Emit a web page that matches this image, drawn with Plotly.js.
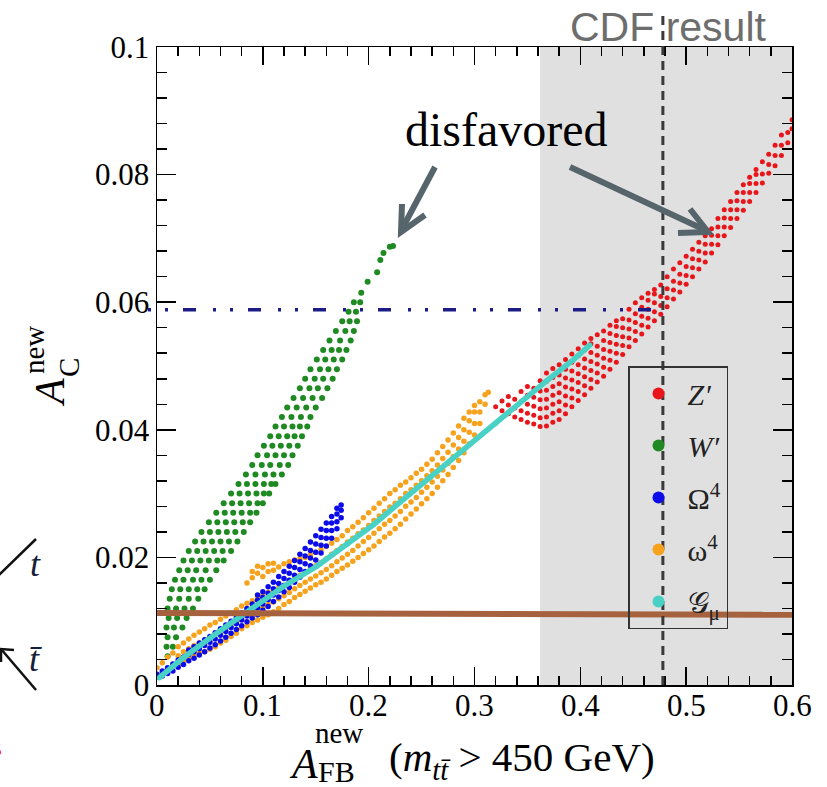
<!DOCTYPE html>
<html>
<head>
<meta charset="utf-8">
<script src="https://cdn.plot.ly/plotly-3.0.1.min.js"></script>
<style>
  html, body { margin: 0; padding: 0; background: #ffffff; }
  #chart { width: 827px; height: 787px; }
</style>
</head>
<body>
<div id="chart"></div>
<script>
// ---------- data ----------
// Z' scan points, stored column by column: x, then the A_C values in that column
const zColX = [0.320,0.326,0.332,0.338,0.344,0.350,0.356,0.362,0.368,0.374,0.380,0.386,0.392,0.398,0.404,0.410,
  0.416,0.422,0.428,0.434,0.440,0.446,0.452,0.458,0.464,0.470,0.476,0.482,0.488,0.494,0.500,0.506,0.512,0.518,
  0.524,0.530,0.536,0.542,0.548,0.554,0.560,0.566,0.572,0.578,0.584,0.590,0.596,0.600];
const zColY = [
  [0.0436],[0.0430,0.0445],[0.0425,0.0439,0.0452],[0.0420,0.0434,0.0448],[0.0416,0.0430,0.0444,0.0460],
  [0.0412,0.0426,0.0440,0.0454,0.0468],[0.0409,0.0423,0.0437,0.0451,0.0465],
  [0.0405,0.0419,0.0433,0.0447,0.0461,0.0477],
  [0.0406,0.0420,0.0434,0.0448,0.0462,0.0476,0.0489],[0.0412,0.0426,0.0440,0.0454,0.0468,0.0482,0.0496],
  [0.0416,0.0430,0.0444,0.0458,0.0472,0.0486,0.0502],[0.0425,0.0439,0.0453,0.0467,0.0481,0.0495,0.0510],
  [0.0436,0.0450,0.0464,0.0478,0.0492,0.0506,0.0519],[0.0446,0.0460,0.0474,0.0488,0.0502,0.0516,0.0527],
  [0.0455,0.0469,0.0483,0.0497,0.0511,0.0525,0.0536],[0.0465,0.0479,0.0493,0.0507,0.0521,0.0535,0.0543],
  [0.0475,0.0489,0.0503,0.0517,0.0531,0.0549],[0.0484,0.0498,0.0512,0.0526,0.0540,0.0555],
  [0.0495,0.0509,0.0523,0.0537,0.0551,0.0564],[0.0506,0.0520,0.0534,0.0548,0.0562,0.0571],
  [0.0518,0.0532,0.0546,0.0560,0.0574],[0.0530,0.0544,0.0558,0.0572,0.0589],[0.0540,0.0554,0.0568,0.0582,0.0599],
  [0.0550,0.0564,0.0578,0.0592,0.0607],[0.0561,0.0575,0.0589,0.0603,0.0614],[0.0571,0.0585,0.0599,0.0613,0.0620],
  [0.0581,0.0595,0.0609,0.0627],[0.0593,0.0607,0.0621,0.0640],[0.0605,0.0619,0.0633,0.0652],[0.0616,0.0630,0.0644,0.0662],
  [0.0628,0.0642,0.0656,0.0672],[0.0640,0.0654,0.0668,0.0683],[0.0652,0.0666,0.0680,0.0694],[0.0663,0.0677,0.0691,0.0704],
  [0.0677,0.0691,0.0705,0.0715],[0.0690,0.0704,0.0718,0.0731],[0.0704,0.0718,0.0732,0.0745],[0.0717,0.0731,0.0745,0.0758],
  [0.0731,0.0745,0.0759,0.0772],[0.0744,0.0758,0.0772,0.0784],[0.0758,0.0772,0.0786,0.0796],[0.0772,0.0786,0.0800,0.0808],
  [0.0787,0.0801,0.0820],[0.0802,0.0816,0.0832],[0.0814,0.0830,0.0846],[0.0830,0.0846,0.0862],
  [0.0850,0.0866],[0.0872,0.0886]];

// W' scan points, stored row by row: A_C value, then the A_FB values in that row
const wRowY = [0.0045,0.006,0.0075,0.009,0.0105,0.012,0.0135,0.015,0.0165,0.018,0.0195,0.021,0.0225,0.024,0.0255,
  0.027,0.0285,0.030,0.0315,0.033,0.0345,0.036,0.0375,0.039,0.0405,0.042,0.0435,0.045,0.0465,0.048,0.0495,0.051,
  0.0525,0.054,0.0555,0.057,0.0585,0.060,0.0615,0.0632,0.0647,0.0666,0.0677,0.0687,0.0688];
const wRowX = [
  [0.010],[0.009,0.015],[0.010,0.018],[0.009,0.016,0.024],[0.011,0.019,0.028],[0.010,0.018,0.026,0.034],
  [0.012,0.021,0.030,0.039],[0.014,0.022,0.030,0.038,0.045],[0.017,0.025,0.034,0.042,0.050],
  [0.021,0.029,0.037,0.046,0.056],[0.025,0.033,0.041,0.049,0.057,0.063],[0.030,0.038,0.046,0.054,0.062,0.070],
  [0.036,0.044,0.052,0.060,0.068,0.076],[0.042,0.050,0.058,0.066,0.074,0.082],[0.049,0.057,0.065,0.073,0.081,0.088],
  [0.056,0.064,0.072,0.080,0.088,0.094],[0.063,0.071,0.079,0.087,0.095,0.100],[0.070,0.078,0.086,0.094,0.101,0.106],
  [0.077,0.085,0.093,0.101,0.108,0.112],[0.084,0.093,0.102,0.110,0.118],[0.090,0.099,0.107,0.116,0.124],
  [0.095,0.104,0.112,0.120,0.128],[0.101,0.109,0.117,0.125,0.133],[0.107,0.115,0.123,0.130,0.137],
  [0.112,0.120,0.128,0.135,0.142],[0.118,0.127,0.136,0.145],[0.123,0.132,0.141,0.150],[0.129,0.138,0.147,0.156],
  [0.135,0.144,0.152,0.161],[0.140,0.149,0.157,0.166],[0.145,0.154,0.162,0.170],[0.151,0.159,0.167,0.175],
  [0.157,0.165,0.172,0.179],[0.163,0.173,0.183],[0.169,0.178,0.186],[0.175,0.182,0.189],[0.181,0.188],[0.186,0.192],
  [0.193],[0.199],[0.208],[0.211],[0.214],[0.220],[0.223]];

// Omega^4 scan points, column by column
const bColX = [0,0.005,0.010,0.015,0.020,0.025,0.030,0.035,0.040,0.045,0.050,0.055,0.060,0.065,0.070,0.075,0.080,
  0.085,0.090,0.095,0.100,0.105,0.110,0.115,0.120,0.125,0.130,0.135,0.140,0.145,0.150,0.155,0.160,0.165,0.170,0.174];
const bColY = [
  [0.0012,0.0017],[0.0014,0.0022],[0.0018,0.0027],[0.0022,0.0033],[0.0028,0.0039],[0.0032,0.0044],
  [0.0038,0.0048,0.0055],[0.0042,0.0052,0.0060],[0.0047,0.0057,0.0066],[0.0052,0.0062,0.0071],[0.0058,0.0067,0.0076],
  [0.0063,0.0072,0.0082],[0.0069,0.0078,0.0088],[0.0075,0.0084,0.0094],[0.0081,0.0090,0.0100],[0.0087,0.0096,0.0106],
  [0.0093,0.0102,0.0113],[0.0099,0.0108,0.0120],[0.0105,0.0115,0.0127],
  [0.0110,0.0121,0.0133,0.0141],[0.0117,0.0127,0.0137,0.0146],[0.0123,0.0134,0.0144,0.0154],[0.0131,0.0141,0.0151,0.0161],
  [0.0138,0.0148,0.0159,0.0170],[0.0146,0.0156,0.0167,0.0178],[0.0153,0.0164,0.0175,0.0186],[0.0161,0.0172,0.0184,0.0195],
  [0.0169,0.0181,0.0193,0.0205],[0.0178,0.0190,0.0202,0.0214],[0.0187,0.0199,0.0211,0.0224],[0.0196,0.0208,0.0221,0.0234],
  [0.0207,0.0219,0.0231,0.0244],[0.0218,0.0230,0.0242,0.0254],[0.0230,0.0242,0.0254,0.0264],[0.0245,0.0256,0.0268,0.0277],
  [0.0262,0.0274,0.0282]];

// omega^4 scan points, column by column
const oColX = [0,0.005,0.010,0.015,0.020,0.025,0.030,0.035,0.040,0.045,0.050,0.055,0.060,0.065,0.070,0.075,0.080,0.085,
  0.090,0.095,0.100,0.105,0.110,0.115,0.120,0.125,0.130,0.135,0.140,0.145,0.150,0.155,0.160,0.165,0.170,0.175,0.180,
  0.185,0.190,0.195,0.200,0.205,0.210,0.215,0.220,0.225,0.230,0.235,0.240,0.245,0.250,0.255,0.260,0.265,0.270,0.275,
  0.280,0.285,0.290,0.295,0.300,0.305,0.310,0.313];
const oColY = [
  [0.0014,0.0027],[0.0018,0.0035],[0.0022,0.0044],[0.0030,0.0050],
  [0.0033,0.0046,0.0060],[0.0038,0.0052,0.0066],[0.0042,0.0057,0.0072],[0.0046,0.0062,0.0078],[0.0050,0.0066,0.0083],
  [0.0052,0.0070,0.0088],[0.0056,0.0075,0.0094],[0.0060,0.0080,0.0098],[0.0066,0.0084,0.0103],[0.0070,0.0090,0.0108],
  [0.0076,0.0095,0.0113],[0.0081,0.0100,0.0118],[0.0088,0.0106,0.0124],
  [0.0093,0.0110,0.0128,0.0160],
  [0.0098,0.0115,0.0132,0.0168,0.0178],[0.0102,0.0118,0.0137,0.0175,0.0186],[0.0106,0.0122,0.0140,0.0170,0.0184],
  [0.0110,0.0126,0.0145,0.0178,0.0190],[0.0115,0.0130,0.0148,0.0180,0.0191],
  [0.0120,0.0135,0.0152,0.0185],[0.0126,0.0140,0.0156,0.0190],[0.0131,0.0145,0.0162,0.0193],[0.0137,0.0151,0.0166,0.0196],
  [0.0142,0.0156,0.0172,0.0198],[0.0147,0.0161,0.0177,0.0200],[0.0152,0.0166,0.0182,0.0204],[0.0157,0.0171,0.0187,0.0208],
  [0.0161,0.0176,0.0192,0.0212],[0.0166,0.0181,0.0198,0.0217],[0.0172,0.0187,0.0205,0.0222],[0.0178,0.0193,0.0211,0.0228],
  [0.0183,0.0199,0.0217,0.0234],[0.0188,0.0205,0.0224,0.0242],[0.0194,0.0211,0.0230,0.0248],[0.0200,0.0218,0.0237,0.0255],
  [0.0206,0.0225,0.0243,0.0262],[0.0212,0.0231,0.0250,0.0270],[0.0218,0.0238,0.0258,0.0277],[0.0225,0.0245,0.0265,0.0285],
  [0.0232,0.0252,0.0272,0.0292],[0.0238,0.0258,0.0279,0.0300],[0.0245,0.0265,0.0285,0.0306],[0.0252,0.0272,0.0292,0.0313],
  [0.0260,0.0280,0.0300,0.0318],[0.0268,0.0287,0.0306,0.0325],[0.0276,0.0294,0.0313,0.0332],[0.0284,0.0302,0.0320,0.0338],
  [0.0292,0.0310,0.0328,0.0346],[0.0300,0.0318,0.0336,0.0354],[0.0310,0.0327,0.0345,0.0364],[0.0320,0.0337,0.0355,0.0374],
  [0.0330,0.0347,0.0365,0.0384],[0.0341,0.0358,0.0376,0.0395],[0.0352,0.0370,0.0388,0.0406],[0.0364,0.0382,0.0400,0.0418],
  [0.0378,0.0396,0.0414,0.0428],[0.0392,0.0410,0.0428,0.0438],
  [0.0410,0.0428,0.0444],[0.0440,0.0455],[0.0459]];

// G_mu scan: a dense one-parameter curve
const gX = [0.002,0.025,0.057,0.088,0.119,0.151,0.180,0.205,0.230,0.258,0.289,0.320,0.345,0.369,0.393,0.409];
const gY = [0.0011,0.0043,0.0082,0.0118,0.0154,0.0186,0.0221,0.0252,0.0287,0.0326,0.0367,0.0410,0.0446,0.0478,0.0509,0.0533];

// horizontal band line (brown)
const hX = [0, 0.6];
const hY = [0.0113, 0.0110];

// reference values
const cdfAfb = 0.478;        // CDF central A_FB (dashed)
const cdfBandLow = 0.362;    // start of shaded CDF region
const acLimit = 0.0588;      // A_C bound (dash-dot)

// axis ticks
const xTickVals = [0, 0.1, 0.2, 0.3, 0.4, 0.5, 0.6];
const xTickText = ['0', '0.1', '0.2', '0.3', '0.4', '0.5', '0.6'];
const yTickVals = [0, 0.02, 0.04, 0.06, 0.08, 0.1];
const yTickText = ['0', '0.02', '0.04', '0.06', '0.08', '0.1'];

// legend labels
const seriesNames = ['<i>Z\u2032</i>', '<i>W\u2032</i>', '\u03A9<sup>4</sup>', '\u03C9<sup>4</sup>', '\uD835\uDCA2<sub>\u03BC</sub>'];

// ---------- helpers ----------
function fromCols(cx, cy) {
  const x = [], y = [];
  cx.forEach((xv, i) => cy[i].forEach(yv => { x.push(xv); y.push(yv); }));
  return { x, y };
}
function fromRows(ry, rx) {
  const x = [], y = [];
  ry.forEach((yv, i) => rx[i].forEach(xv => { x.push(xv); y.push(yv); }));
  return { x, y };
}

// page geometry (pixels) and conversion of a page pixel to paper coordinates
const W = 827, H = 787, ML = 157, MR = 35, MT = 47, MB = 102;
const PW = W - ML - MR, PH = H - MT - MB;
function P(px, py) { return [(px - ML) / PW, (H - MB - py) / PH]; }

const SERIF = 'Liberation Serif, DejaVu Serif, serif';

function label(px, py, text, size, extra) {
  const p = P(px, py);
  return Object.assign({
    xref: 'paper', yref: 'paper', x: p[0], y: p[1], text: text, showarrow: false,
    xanchor: 'center', yanchor: 'middle', font: { family: SERIF, size: size, color: '#000' }
  }, extra || {});
}
function pathShape(points, color, width) {
  const d = points.map((pt, i) => { const p = P(pt[0], pt[1]); return (i ? 'L' : 'M') + p[0] + ',' + p[1]; }).join(' ');
  return { type: 'path', xref: 'paper', yref: 'paper', path: d, line: { color: color, width: width }, layer: 'above' };
}

// ---------- traces ----------
const z = fromCols(zColX, zColY);
const w = fromRows(wRowY, wRowX);
const b = fromCols(bColX, bColY);
const o = fromCols(oColX, oColY);

const traces = [
  { x: z.x, y: z.y, type: 'scatter', mode: 'markers', name: seriesNames[0], legendrank: 1, legendgroup: 'z',
    marker: { color: '#e8161b', size: 5 } },
  { x: w.x, y: w.y, type: 'scatter', mode: 'markers', name: seriesNames[1], legendrank: 2, legendgroup: 'w',
    marker: { color: '#1f8a22', size: 6 } },
  { x: o.x, y: o.y, type: 'scatter', mode: 'markers', name: seriesNames[3], legendrank: 4, legendgroup: 'o',
    marker: { color: '#f6a21c', size: 5.5 } },
  { x: b.x, y: b.y, type: 'scatter', mode: 'markers', name: seriesNames[2], legendrank: 3, legendgroup: 'b',
    marker: { color: '#0c0ce8', size: 5.5 } },
  { x: gX, y: gY, type: 'scatter', mode: 'lines', showlegend: false, legendgroup: 'g',
    line: { color: '#48d1c4', width: 5.5 } },
  { x: gX, y: gY, type: 'scatter', mode: 'markers', name: seriesNames[4], legendrank: 5, legendgroup: 'g',
    marker: { color: '#48d1c4', size: 5 } },
  { x: hX, y: hY, type: 'scatter', mode: 'lines', showlegend: false,
    line: { color: '#a6623f', width: 6 } }
];

// ---------- decorations ----------
const arrowColor = '#56656b';
const shapes = [
  { type: 'rect', xref: 'x', yref: 'paper', x0: cdfBandLow, x1: 0.6, y0: 0, y1: 1,
    fillcolor: '#e0e0e0', line: { width: 0 }, layer: 'below' },
  { type: 'line', xref: 'x', yref: 'paper', x0: cdfAfb, x1: cdfAfb, y0: 0, y1: P(0, 15)[1],
    line: { color: '#3a3a3a', width: 3, dash: '9px,6px' }, layer: 'above' },
  { type: 'line', xref: 'paper', yref: 'y', x0: P(148, 0)[0], x1: P(657, 0)[0], y0: acLimit, y1: acLimit,
    line: { color: '#1c1c86', width: 3.5, dash: '3px,14px,3px,15px,13px,17px' }, layer: 'above' },
  // "disfavored" arrows
  pathShape([[435, 167], [402, 229]], arrowColor, 6),
  pathShape([[402, 204], [401, 232], [425, 215]], arrowColor, 6),
  pathShape([[570, 167], [705, 230]], arrowColor, 6),
  pathShape([[690, 209], [708, 232], [678, 233]], arrowColor, 6),
  // diagram fragment at the left edge
  pathShape([[-4, 578], [36, 539]], '#111', 2.5),
  pathShape([[1, 649], [36, 690]], '#111', 2.5),
  pathShape([[1, 662], [1, 649], [14, 650]], '#111', 2.5)
];

// x tick labels sit close under the frame, so they are placed as annotations on the x scale
const xTickLabels = xTickVals.map((v, i) => ({
  xref: 'x', yref: 'paper', x: v, y: P(0, 705)[1], text: xTickText[i], showarrow: false,
  xanchor: 'center', yanchor: 'middle', font: { family: SERIF, size: 31, color: '#000' }
}));

const annotations = xTickLabels.concat([
  // x-axis title
  label(303, 764, '<i>A</i>', 42),
  label(339, 733, 'new', 29),
  label(336, 771, 'FB', 30),
  label(387, 760, '(<i>m</i><sub><i>tt\u0304</i></sub> > 450 GeV)', 41, { xanchor: 'left' }),
  // y-axis title
  label(50, 392, '<i>A</i>', 42, { textangle: -90 }),
  label(69, 368, 'C', 29, { textangle: -90 }),
  label(34, 350, 'new', 29, { textangle: -90 }),
  // labels on the figure
  label(668, 27, 'CDF result', 41, { font: { family: 'Liberation Sans, Arial, sans-serif', size: 41, color: '#6d6d6d' } }),
  label(506, 130, 'disfavored', 48),
  // diagram fragment labels
  label(36, 564, '<i>t</i>', 36, { font: { family: SERIF, size: 36, color: '#17203a' } }),
  label(36, 659, '<i>t\u0304</i>', 36, { font: { family: SERIF, size: 36, color: '#17203a' } }),
  label(4, 746, 's', 28, { xanchor: 'right', font: { family: SERIF, size: 28, color: '#ff0000' } })
]);

// ---------- axes ----------
const axisCommon = {
  showline: true, linecolor: '#000', linewidth: 1.5, mirror: 'allticks',
  ticks: 'inside', tickcolor: '#000', tickwidth: 1.5,
  showgrid: false, zeroline: false, fixedrange: true,
  tickfont: { family: SERIF, size: 31, color: '#000' }
};

const layout = {
  width: W, height: H,
  margin: { l: ML, r: MR, t: MT, b: MB, pad: 0 },
  paper_bgcolor: '#ffffff', plot_bgcolor: '#ffffff',
  showlegend: true,
  xaxis: Object.assign({}, axisCommon, {
    range: [0, 0.6], tickmode: 'array', tickvals: xTickVals, ticktext: xTickText, ticklen: 18,
    showticklabels: false,
    minor: { tickmode: 'linear', tick0: 0, dtick: 0.02, ticks: 'inside', ticklen: 9, tickwidth: 1.5, tickcolor: '#000' }
  }),
  yaxis: Object.assign({}, axisCommon, {
    range: [0, 0.1], tickmode: 'array', tickvals: yTickVals, ticktext: yTickText, ticklen: 19,
    minor: { tickmode: 'linear', tick0: 0, dtick: 0.004, ticks: 'inside', ticklen: 10, tickwidth: 1.5, tickcolor: '#000' }
  }),
  legend: {
    x: P(628, 0)[0], y: P(0, 366)[1], xanchor: 'left', yanchor: 'top',
    bgcolor: 'rgba(0,0,0,0)', bordercolor: '#333', borderwidth: 1.5,
    font: { family: SERIF, size: 30, color: '#222' },
    itemsizing: 'constant', itemwidth: 48, traceorder: 'grouped', tracegroupgap: 10
  },
  shapes: shapes,
  annotations: annotations
};

Plotly.newPlot('chart', traces, layout, { displayModeBar: false, staticPlot: true });
</script>
</body>
</html>
